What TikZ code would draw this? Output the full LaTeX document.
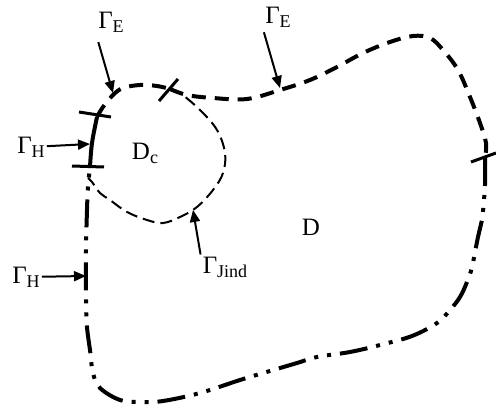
\documentclass[tikz,border=0pt]{standalone}
\usepackage{fontspec}
\setmainfont{Liberation Serif}
\usepackage{tikz}
\usetikzlibrary{arrows.meta}

\newcommand{\gsub}[1]{{\fontsize{18}{18}\selectfont\raisebox{-4pt}{#1}}}

\tikzset{
  lbl/.style={font=\fontsize{25}{25}\selectfont, inner sep=2pt},
  bndE/.style={line width=4pt, dash pattern=on 14pt off 9pt},
  bndH/.style={line width=4pt, dash pattern=on 28pt off 9pt on 4pt off 9pt on 4pt off 9pt},
  bndHs/.style={line width=4pt},
  bndJ/.style={line width=2pt, dash pattern=on 12pt off 6pt},
  tick/.style={line width=3pt},
  pointer/.style={line width=2pt, -{Triangle[length=12pt,width=10pt]}}
}

\begin{document}
\begin{tikzpicture}[x=1pt, y=-1pt]
  \useasboundingbox (0,0) rectangle (496,412);

  %% Outer boundary of D
  % Gamma_E, left part
  \draw[bndE] plot[smooth, tension=0.6] coordinates {
    (97,117) (103,107) (113,95) (123,88) (140,85) (157,86) (170,89)};
  % Gamma_E, top and right
  \draw[bndE] plot[smooth, tension=0.6] coordinates {
    (170,89) (187,95) (213,98) (247,99) (280,90) (310,80) (337,67) (363,53)
    (390,42) (413,36) (430,38) (443,50) (458,70) (470,97) (480,123) (486,143) (485,158)};
  % Gamma_H, bottom and left
  \draw[bndH] plot[smooth, tension=0.6] coordinates {
    (485,158) (485,185) (482,220) (478,237) (472,267) (467,282) (460,297) (450,310)
    (437,323) (412,336) (380,345) (350,352) (317,357) (297,363) (270,371) (240,380)
    (200,393) (163,401) (140,402) (120,400) (100,388) (93,373) (90,350) (87,327)
    (86,300) (86,250) (87,210) (88,187) (90,167)};
  % Gamma_H, short solid part
  \draw[bndHs] plot[smooth, tension=0.6] coordinates {(90,167) (92,143) (97,117)};

  %% Inner boundary of D_c
  \draw[bndJ] plot[smooth, tension=0.6] coordinates {
    (170,89) (180,93) (200,110) (217,130) (225,153) (223,173) (213,190) (197,207)
    (180,217) (163,223) (147,220) (127,212) (110,200) (100,193) (92,182) (88,178)};

  %% Ticks
  \draw[tick] (79,112) -- (111,117);
  \draw[tick] (72,166) -- (104,167);
  \draw[tick] (159,101) -- (178,79);
  \draw[tick] (471,162) -- (496,153);

  %% Labels
  \node[lbl] (gEl) at (111,22) {Γ\gsub{E}};
  \node[lbl] (gEr) at (278,17) {Γ\gsub{E}};
  \node[lbl] (gHu) at (31,147) {Γ\gsub{H}};
  \node[lbl] (gHl) at (26,277) {Γ\gsub{H}};
  \node[lbl] (gJ) at (225,267) {Γ\gsub{Jind}};
  \node[lbl] (Dc) at (145,153) {D\gsub{c}};
  \node[lbl] (D) at (311,227) {D};

  %% Pointers
  \coordinate (pEl) at (113,93);
  \coordinate (pEr) at (280,88);
  \coordinate (pHu) at (90,144);
  \coordinate (pHl) at (86,276);
  \coordinate (pJ) at (193,210);
  \draw[pointer, shorten <=8pt] (gEl.south west) -- (pEl);
  \draw[pointer, shorten <=3pt] (gEr.south west) -- (pEr);
  \draw[pointer] (gHu) -- (pHu);
  \draw[pointer] (gHl) -- (pHl);
  \draw[pointer] (gJ.north west) -- (pJ);

\end{tikzpicture}
\end{document}
